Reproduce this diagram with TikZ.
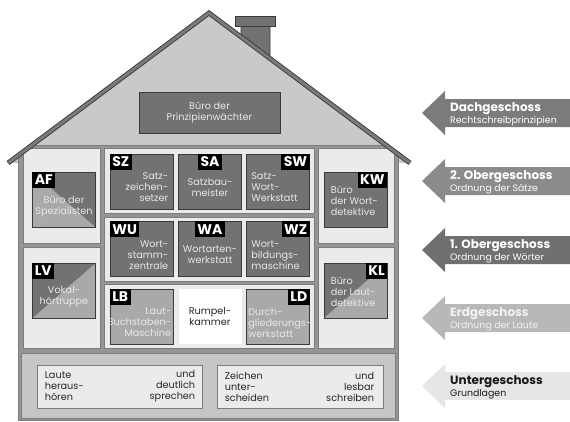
\documentclass[tikz,border=0pt]{standalone}
\usepackage{fontspec}
\setmainfont{Poppins}
\usetikzlibrary{positioning}

\definecolor{roofgray}{HTML}{C9C9C9}
\definecolor{roofband}{HTML}{7A7A7A}
\definecolor{wallgray}{HTML}{959595}
\definecolor{wallline}{HTML}{7C7C7C}
\definecolor{panelgray}{HTML}{EBEBEB}
\definecolor{darkroom}{HTML}{727272}
\definecolor{paleroom}{HTML}{A9A9A9}
\definecolor{basegray}{HTML}{C6C6C6}
\definecolor{edgegray}{HTML}{3A3A3A}
\definecolor{textlight}{HTML}{E8E8E8}
\definecolor{arrowA}{HTML}{7B7B7B}
\definecolor{arrowB}{HTML}{8B8B8B}
\definecolor{arrowC}{HTML}{707070}
\definecolor{arrowD}{HTML}{B8B8B8}
\definecolor{arrowE}{HTML}{E6E6E6}

\newcommand\roomfont{\fontsize{9.7}{11}\selectfont}
\newcommand\tagfont{\fontsize{14}{14}\selectfont\bfseries}
\newcommand\floorfont{\fontsize{12}{13}\selectfont\bfseries}
\newcommand\subfont{\fontsize{9.4}{11}\selectfont}

\begin{document}
\begin{tikzpicture}[x=1pt,y=-1pt,
  panel/.style={draw=wallline,fill=panelgray,line width=0.7pt},
  room/.style={draw=edgegray,line width=0.8pt,fill=darkroom,minimum width=63pt,minimum height=55pt,inner sep=0pt},
  paleroom/.style={room,fill=paleroom},
  splitroom/.style={room,fill=paleroom,path picture={\fill[darkroom] #1;}},
  tag/.style={fill=black,text=white,font=\tagfont,inner xsep=2.5pt,inner ysep=0pt,minimum height=16pt},
  roomtext/.style={text=textlight,font=\roomfont,inner sep=0pt},
  basebox/.style={draw=wallline,fill=panelgray,line width=0.8pt,minimum width=165pt,minimum height=43pt},
  basetext/.style={font=\roomfont,text=black!85,inner sep=0pt},
  floortext/.style={anchor=west,align=left,inner sep=0pt,text=white}
]
\useasboundingbox (0,0) rectangle (570,421);
\coordinate (eaveL) at (8,163);
\coordinate (apex) at (209,13);
\coordinate (eaveR) at (410,163);

% Dachgeschoss
\fill[roofgray] (eaveL) -- (apex) -- (eaveR) -- cycle;
\filldraw[fill=darkroom,draw=edgegray,line width=0.8pt] (241,26) -- (270,26) -- (270,58.5) -- (241,36.9) -- cycle;
\filldraw[fill=darkroom,draw=edgegray,line width=0.8pt] (235,16) rectangle (275,26);

% Haus
\begin{scope}
\clip (eaveL) -- (apex) -- (eaveR) -- (412,425) -- (6,425) -- cycle;
\filldraw[fill=wallgray,draw=wallline,line width=1pt] (18,145) rectangle (398,420);
\filldraw[panel] (23,148) rectangle (100,243);
\filldraw[panel] (23,247) rectangle (100,348);
\filldraw[panel] (104,148) rectangle (314,213);
\filldraw[panel] (104,217) rectangle (314,281);
\filldraw[panel] (104,284) rectangle (314,348);
\filldraw[panel] (318,148) rectangle (394,243);
\filldraw[panel] (318,247) rectangle (394,348);
\filldraw[panel,fill=basegray] (21,353) rectangle (395,418);
\end{scope}
\draw[draw=edgegray,double=roofband,double distance=3pt,line width=0.9pt] (eaveL) -- (apex) -- (eaveR);

\node[room,minimum width=141pt,minimum height=41pt,text=textlight,font=\roomfont,align=center] (pw) at (209.5,112.5) {Büro der\\Prinzipienwächter};

% 2. Obergeschoss
\node[room] (sz) at (141.5,181.5) {};
\node[room] (sa) at (210,181.5) {};
\node[room] (sw) at (278,181.5) {};
\node[tag,anchor=north west] (szt) at (sz.north west) {SZ};
\node[tag,anchor=north] (sat) at (sa.north) {SA};
\node[tag,anchor=north east] (swt) at (sw.north east) {SW};
\node[roomtext,align=right,anchor=east] (szx) at ([xshift=-5pt,yshift=-6pt]sz.east) {Satz-\\zeichen-\\setzer};
\node[roomtext,align=center] (sax) at ([yshift=-6pt]sa.center) {Satzbau-\\meister};
\node[roomtext,align=left,anchor=west] (swx) at ([xshift=5pt,yshift=-6pt]sw.west) {Satz-\\Wort-\\Werkstatt};

% 1. Obergeschoss
\node[room] (wu) at (141.5,249) {};
\node[room] (wa) at (210,249) {};
\node[room] (wz) at (278,249) {};
\node[tag,anchor=north west] (wut) at (wu.north west) {WU};
\node[tag,anchor=north] (wat) at (wa.north) {WA};
\node[tag,anchor=north east] (wzt) at (wz.north east) {WZ};
\node[roomtext,align=right,anchor=east] (wux) at ([xshift=-5pt,yshift=-6pt]wu.east) {Wort-\\stamm-\\zentrale};
\node[roomtext,align=center] (wax) at ([yshift=-6pt]wa.center) {Wortarten-\\werkstatt};
\node[roomtext,align=left,anchor=west] (wzx) at ([xshift=5pt,yshift=-6pt]wz.west) {Wort-\\bildungs-\\maschine};

% Erdgeschoss
\node[paleroom] (lb) at (141.5,316.5) {};
\node[room,fill=white,draw=none] (rk) at (210,316.5) {};
\node[paleroom] (ld) at (278,316.5) {};
\node[tag,anchor=north west] (lbt) at (lb.north west) {LB};
\node[tag,anchor=north east] (ldt) at (ld.north east) {LD};
\node[roomtext,align=right,anchor=east] (lbx) at ([xshift=-2pt,yshift=-6pt]lb.east) {Laut-\\Buchstaben-\\Maschine};
\node[roomtext,align=center,text=black!85] (rkx) at (rk.center) {Rumpel-\\kammer};
\node[roomtext,align=left,anchor=west] (ldx) at ([xshift=2pt,yshift=-6pt]ld.west) {Durch-\\gliederungs-\\werkstatt};

% Seitenzimmer
\node[splitroom={(path picture bounding box.north west) -- (path picture bounding box.north east) -- (path picture bounding box.south east) -- cycle}] (af) at (64,199.5) {};
\node[tag,anchor=north west] (aft) at (af.north west) {AF};
\node[roomtext,align=center] (afx) at ([yshift=-7.5pt]af.center) {Büro der\\Spezialisten};

\node[splitroom={(path picture bounding box.north west) -- (path picture bounding box.north east) -- (path picture bounding box.south west) -- cycle}] (lv) at (64,290.5) {};
\node[tag,anchor=north west] (lvt) at (lv.north west) {LV};
\node[roomtext,align=center] (lvx) at ([yshift=-6.5pt]lv.center) {Vokal-\\hörtruppe};

\node[room] (kw) at (355.5,199.5) {};
\node[tag,anchor=north east] (kwt) at (kw.north east) {KW};
\node[roomtext,align=left,anchor=west] (kwx) at ([xshift=7pt,yshift=-2pt]kw.west) {Büro\\der Wort-\\detektive};

\node[splitroom={(path picture bounding box.north west) -- (path picture bounding box.north east) -- (path picture bounding box.south west) -- cycle}] (kl) at (355.5,290.5) {};
\node[tag,anchor=north east] (klt) at (kl.north east) {KL};
\node[roomtext,align=left,anchor=west] (klx) at ([xshift=7pt,yshift=-2pt]kl.west) {Büro\\der Laut-\\detektive};

% Untergeschoss
\node[basebox] (hoeren) at (119.5,386.5) {};
\node[basebox,minimum width=166pt] (schreiben) at (300,386.5) {};
\node[basetext,anchor=west,align=left] (hoerenl) at ([xshift=8pt]hoeren.west) {Laute\\heraus-\\hören};
\node[basetext,anchor=east,align=right] (hoerenr) at ([xshift=-7pt]hoeren.east) {und\\deutlich\\sprechen};
\node[basetext,anchor=west,align=left] (schreibenl) at ([xshift=8pt]schreiben.west) {Zeichen\\unter-\\scheiden};
\node[basetext,anchor=east,align=right] (schreibenr) at ([xshift=-9pt]schreiben.east) {und\\lesbar\\schreiben};

% Stockwerkspfeile
\fill[arrowA] (422,113) -- (445,91) -- (445,99) -- (570,99) -- (570,127) -- (445,127) -- (445,135) -- cycle;
\node[floortext] (dg) at (450,114.5) {{\floorfont Dachgeschoss}\\{\subfont Rechtschreibprinzipien}};
\fill[arrowB] (422,181) -- (445,159) -- (445,167) -- (570,167) -- (570,195) -- (445,195) -- (445,203) -- cycle;
\node[floortext] (og2) at (450,182.5) {{\floorfont 2. Obergeschoss}\\{\subfont Ordnung der Sätze}};
\fill[arrowC] (422,250) -- (445,228) -- (445,236) -- (570,236) -- (570,264) -- (445,264) -- (445,272) -- cycle;
\node[floortext] (og1) at (450,251.5) {{\floorfont 1. Obergeschoss}\\{\subfont Ordnung der Wörter}};
\fill[arrowD] (422,318) -- (445,296) -- (445,304) -- (570,304) -- (570,332) -- (445,332) -- (445,340) -- cycle;
\node[floortext,text=white!95!black] (eg) at (450,319.5) {{\floorfont Erdgeschoss}\\{\subfont Ordnung der Laute}};
\fill[arrowE] (422,386) -- (445,364) -- (445,372) -- (570,372) -- (570,400) -- (445,400) -- (445,408) -- cycle;
\node[floortext,text=black!90] (ug) at (450,387.5) {{\floorfont Untergeschoss}\\{\subfont Grundlagen}};
\end{tikzpicture}
\end{document}
